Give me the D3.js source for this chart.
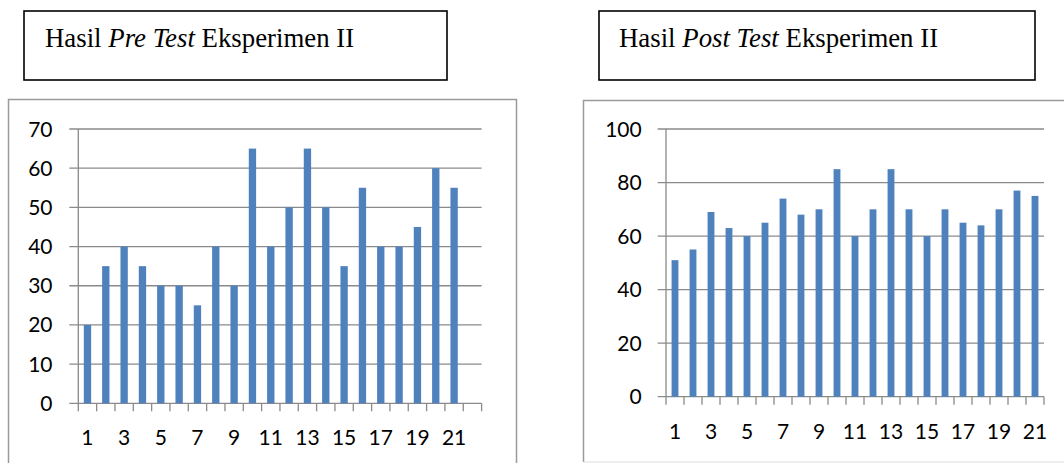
<!DOCTYPE html>
<html><head><meta charset="utf-8">
<script src="https://cdn.jsdelivr.net/npm/d3@7"></script>
<style>
html,body{margin:0;padding:0;background:#fff;}
svg{display:block;}
</style></head>
<body>
<svg id="c" width="1064" height="463"></svg>
<script>
// ---- data ----
const preCategories = d3.range(1, 23).map(String);   // 22 slots on axis, 21 bars
const preValues = [20,35,40,35,30,30,25,40,30,65,40,50,65,50,35,55,40,40,45,60,55];
const preTicks = [0,10,20,30,40,50,60,70];
const preXLabels = ["1","3","5","7","9","11","13","15","17","19","21"];

const postCategories = d3.range(1, 22).map(String);
const postValues = [51,55,69,63,60,65,74,68,70,85,60,70,85,70,60,70,65,64,70,77,75];
const postTicks = [0,20,40,60,80,100];
const postXLabels = ["1","3","5","7","9","11","13","15","17","19","21"];

const svg = d3.select("#c");
const BAR = "#4F81BD", GRID = "#8a8a8a";

function titleBox(x, y, w, h, textX, parts) {
  svg.append("rect").attr("x", x).attr("y", y).attr("width", w).attr("height", h)
    .attr("fill", "#fff").attr("stroke", "#000").attr("stroke-width", 1.6);
  const t = svg.append("text").attr("x", textX).attr("y", 47)
    .attr("font-family", "'Liberation Serif','Times New Roman',serif")
    .attr("font-size", 26.8).attr("fill", "#000");
  parts.forEach(p => t.append("tspan").text(p[0]).attr("font-style", p[1] ? "italic" : "normal"));
}

function chart(o) {
  const g = svg.append("g");
  const x = d3.scaleBand().domain(o.categories).range([o.x0, o.x1])
    .paddingInner(o.pad).paddingOuter(o.pad / 2);
  const y = d3.scaleLinear().domain([0, o.max]).range([o.y0, o.yTop]);

  // gridlines
  g.selectAll(".grid").data(o.ticks).enter().append("line")
    .attr("x1", o.gx).attr("x2", o.x1)
    .attr("y1", d => y(d)).attr("y2", d => y(d))
    .attr("stroke", GRID).attr("stroke-width", 1.3);
  // y axis line
  g.append("line").attr("x1", o.x0).attr("x2", o.x0).attr("y1", y(o.max)).attr("y2", o.y0 + 8)
    .attr("stroke", GRID).attr("stroke-width", 1.3);
  // x tick marks at band boundaries
  const step = x.step();
  const bounds = o.categories.map((c, i) => o.x0 + i * step).concat([o.x1]);
  g.selectAll(".xt").data(bounds.slice(1)).enter().append("line")
    .attr("x1", d => d).attr("x2", d => d).attr("y1", o.y0).attr("y2", o.y0 + 8)
    .attr("stroke", GRID).attr("stroke-width", 1.3);

  // y labels
  g.selectAll(".yl").data(o.ticks).enter().append("text")
    .attr("x", o.labelX).attr("y", d => y(d)).attr("dy", "0.36em")
    .attr("text-anchor", "end")
    .attr("font-family", "Lato,'Open Sans',sans-serif").attr("font-size", 21).attr("fill", "#000")
    .text(d => d);
  // x labels
  g.selectAll(".xl").data(o.xLabels).enter().append("text")
    .attr("x", d => x(d) + x.bandwidth() / 2).attr("y", o.y0 + 42)
    .attr("text-anchor", "middle")
    .attr("font-family", "Lato,'Open Sans',sans-serif").attr("font-size", 21).attr("fill", "#000")
    .text(d => d);

  // bars
  g.selectAll(".bar").data(o.values).enter().append("rect")
    .attr("x", (d, i) => x(o.categories[i]))
    .attr("width", x.bandwidth())
    .attr("y", d => y(d)).attr("height", d => o.y0 - y(d))
    .attr("fill", BAR);
}

// outer frames
svg.append("path").attr("d", "M8.5,470V99.5H516.5V470").attr("fill", "none")
  .attr("stroke", "#9a9a9a").attr("stroke-width", 1.5);
svg.append("path").attr("d", "M583.5,462V100.5H1070").attr("fill", "none")
  .attr("stroke", "#9a9a9a").attr("stroke-width", 1.5);
svg.append("line").attr("x1", 583.5).attr("x2", 1064).attr("y1", 462).attr("y2", 462)
  .attr("stroke", "#dddddd").attr("stroke-width", 1);

titleBox(24, 11, 423, 69, 45, [["Hasil ", false], ["Pre Test", true], [" Eksperimen II", false]]);
titleBox(599, 11, 436, 69, 619, [["Hasil ", false], ["Post Test", true], [" Eksperimen II", false]]);

chart({categories: preCategories, values: preValues, ticks: preTicks, xLabels: preXLabels,
  max: 70, x0: 78.3, x1: 481.6, gx: 69.3, y0: 403.3, yTop: 129, pad: 0.6, labelX: 52.5});
chart({categories: postCategories, values: postValues, ticks: postTicks, xLabels: postXLabels,
  max: 100, x0: 666, x1: 1044, gx: 657.7, y0: 396.7, yTop: 129, pad: 0.62, labelX: 641.7});
</script>
</body></html>
